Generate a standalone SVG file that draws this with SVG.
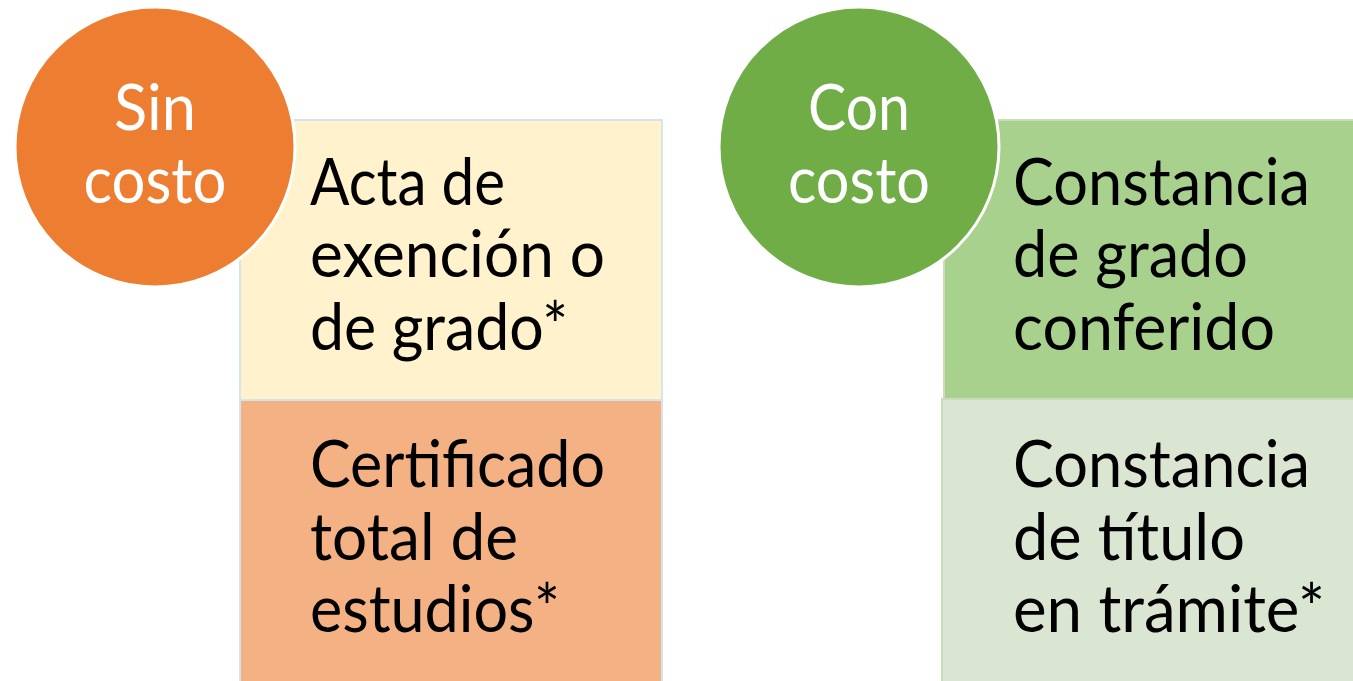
<svg xmlns="http://www.w3.org/2000/svg" width="1353" height="681" viewBox="0 0 1353 681">
<style>
.t{font-family:Lato,"Open Sans","Liberation Sans",sans-serif;font-size:66px;fill:#000}
.c{font-family:Lato,"Open Sans","Liberation Sans",sans-serif;font-size:64px;fill:#fff;text-anchor:middle}
.bl{stroke:#d5e3ee;stroke-width:2}
.bg{stroke:#c9dcbb;stroke-width:2}
.circ{stroke:#fff;stroke-width:3}
</style>
<rect width="1353" height="681" fill="#fff"/>
<g id="box-acta">
<rect class="bl" x="240" y="120" width="422" height="280" fill="#fff2cc"/>
<text class="t" x="310" y="205" textLength="195" lengthAdjust="spacingAndGlyphs">Acta de</text>
<text class="t" x="310" y="277" textLength="295" lengthAdjust="spacingAndGlyphs">exención o</text>
<text class="t" x="310" y="350" textLength="258" lengthAdjust="spacingAndGlyphs">de grado*</text>
</g>
<g id="box-certificado">
<rect class="bl" x="240" y="400" width="422" height="290" fill="#f4b183"/>
<text class="t" x="310" y="487" textLength="295" lengthAdjust="spacingAndGlyphs">Certificado</text>
<text class="t" x="310" y="560" textLength="208" lengthAdjust="spacingAndGlyphs">total de</text>
<text class="t" x="310" y="632" textLength="250" lengthAdjust="spacingAndGlyphs">estudios*</text>
</g>
<g id="circle-sin">
<circle class="circ" cx="155" cy="147" r="140" fill="#ed7d31"/>
<text class="c" x="155" y="130" textLength="82" lengthAdjust="spacingAndGlyphs">Sin</text>
<text class="c" x="155" y="203" textLength="143" lengthAdjust="spacingAndGlyphs">costo</text>
</g>
<g id="box-grado">
<rect class="bg" x="944" y="120" width="420" height="279" fill="#a9d18e"/>
<text class="t" x="1013" y="205" textLength="297" lengthAdjust="spacingAndGlyphs">Constancia</text>
<text class="t" x="1013" y="277" textLength="235" lengthAdjust="spacingAndGlyphs">de grado</text>
<text class="t" x="1013" y="350" textLength="262" lengthAdjust="spacingAndGlyphs">conferido</text>
</g>
<g id="box-titulo">
<rect class="bg" x="942" y="399" width="422" height="290" fill="#dae5d2"/>
<text class="t" x="1013" y="487" textLength="297" lengthAdjust="spacingAndGlyphs">Constancia</text>
<text class="t" x="1013" y="560" textLength="232" lengthAdjust="spacingAndGlyphs">de título</text>
<text class="t" x="1013" y="632" textLength="312" lengthAdjust="spacingAndGlyphs">en trámite*</text>
</g>
<g id="circle-con">
<circle class="circ" cx="859" cy="147" r="140" fill="#70ad47"/>
<text class="c" x="859" y="130" textLength="102" lengthAdjust="spacingAndGlyphs">Con</text>
<text class="c" x="859" y="203" textLength="142" lengthAdjust="spacingAndGlyphs">costo</text>
</g>
<g id="connectors"/>
</svg>
